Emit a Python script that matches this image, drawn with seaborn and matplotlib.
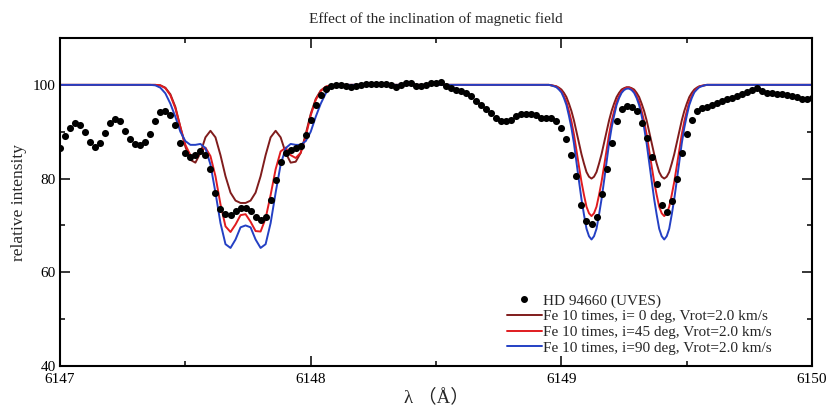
import matplotlib
matplotlib.use("Agg")
import matplotlib.pyplot as plt
import numpy as np
import seaborn as sns
from matplotlib.lines import Line2D
from matplotlib.ticker import MultipleLocator, FormatStrFormatter

# observed spectrum HD 94660 (UVES), sampled every 0.02 A
wl_obs = np.round(np.arange(6147.0, 6150.001, 0.02), 2)
flux_obs = [
    86.5, 89.0, 90.9, 91.9, 91.5, 90.0, 87.8, 86.7, 87.5, 89.8,
    91.9, 92.8, 92.3, 90.2, 88.5, 87.4, 87.2, 87.9, 89.6, 92.3,
    94.2, 94.4, 93.5, 91.5, 87.7, 85.5, 84.7, 85.1, 85.8, 85.0,
    82.0, 77.0, 73.6, 72.4, 72.3, 73.0, 73.7, 73.7, 73.0, 71.9,
    71.1, 71.7, 75.5, 79.6, 83.5, 85.5, 86.2, 86.6, 87.0, 89.3,
    92.6, 95.7, 97.8, 99.1, 99.7, 99.9, 99.9, 99.7, 99.5, 99.7,
    100.0, 100.2, 100.2, 100.1, 100.2, 100.1, 99.9, 99.6, 99.9, 100.3,
    100.3, 99.8, 99.7, 100.0, 100.3, 100.5, 100.6, 99.8, 99.3, 99.0,
    98.6, 98.2, 97.6, 96.6, 95.8, 94.8, 94.0, 92.9, 92.3, 92.3,
    92.6, 93.4, 93.8, 93.8, 93.8, 93.5, 93.0, 93.0, 92.9, 92.3,
    90.9, 88.5, 85.0, 80.5, 74.3, 71.0, 70.4, 71.7, 76.8, 82.0,
    87.5, 92.2, 94.8, 95.5, 95.3, 94.4, 91.9, 88.6, 84.5, 78.9,
    74.3, 72.8, 75.2, 80.0, 85.5, 89.5, 92.6, 94.5, 95.0, 95.3,
    95.8, 96.1, 96.6, 96.9, 97.3, 97.7, 98.1, 98.5, 99.0, 99.3,
    98.6, 98.3, 98.2, 98.1, 98.0, 97.8, 97.7, 97.4, 97.0, 96.9,
    97.2]

# synthetic profiles, first blend (6147.36 - 6148.12, step 0.02)
wl_blend = np.round(np.arange(6147.36, 6148.121, 0.02), 2)
i0_blend = [100.0, 100.0, 99.9, 99.4, 98.0, 95.3, 91.0, 86.8, 84.0, 83.4,
            85.5, 88.8, 90.2, 88.8, 85.0, 80.5, 77.0, 75.3, 74.8, 74.8,
            75.3, 77.0, 80.5, 85.0, 88.8, 90.2, 88.8, 85.5, 83.4, 83.6,
            85.5, 89.5, 93.8, 97.0, 98.8, 99.6, 99.9, 100.0, 100.0]
i45_blend = [100.0, 100.0, 99.9, 99.3, 97.8, 95.0, 91.0, 87.2, 85.0, 84.5,
             85.8, 86.6, 84.8, 80.5, 74.5, 69.8, 68.6, 70.2, 72.2, 72.4,
             70.8, 68.8, 68.7, 71.5, 76.5, 82.0, 85.8, 86.6, 85.0, 84.4,
             85.5, 89.0, 93.5, 96.8, 98.7, 99.6, 99.9, 100.0, 100.0]
i90_blend = [100.0, 99.9, 99.4, 98.2, 96.0, 93.2, 90.0, 88.0, 87.2, 87.2,
             87.4, 86.5, 83.0, 77.0, 70.5, 66.0, 65.2, 67.0, 69.6, 70.0,
             69.6, 67.0, 65.2, 66.0, 70.5, 77.0, 83.0, 86.5, 87.4, 87.2,
             87.2, 88.0, 90.0, 93.2, 96.0, 98.2, 99.4, 99.9, 100.0]

# synthetic profiles, line pair (6148.94 - 6149.60, step 0.01)
wl_pair = np.round(np.arange(6148.94, 6149.601, 0.01), 2)
i0_pair = [100.0, 100.0, 99.9, 99.8, 99.7, 99.4, 99.0, 98.3, 97.4, 96.0,
           94.4, 92.4, 90.0, 87.6, 85.2, 83.2, 81.4, 80.4, 80.0, 80.4,
           81.4, 83.2, 85.2, 87.6, 90.0, 92.4, 94.4, 96.0, 97.4, 98.3,
           99.0, 99.3, 99.5, 99.5, 99.3, 99.0, 98.3, 97.4, 96.0, 94.4,
           92.4, 90.0, 87.6, 85.2, 83.2, 81.4, 80.4, 80.0, 80.4, 81.4,
           83.2, 85.2, 87.6, 90.0, 92.4, 94.4, 96.0, 97.4, 98.3, 99.0,
           99.4, 99.7, 99.8, 99.9, 100.0, 100.0, 100.0]
i45_pair = [100.0, 100.0, 99.9, 99.8, 99.6, 99.2, 98.6, 97.6, 96.4, 94.4,
            92.2, 89.4, 86.0, 82.6, 79.3, 76.5, 74.0, 72.6, 72.0, 72.6,
            74.0, 76.5, 79.3, 82.6, 86.0, 89.4, 92.2, 94.4, 96.4, 97.6,
            98.6, 99.1, 99.4, 99.4, 99.1, 98.6, 97.6, 96.4, 94.4, 92.2,
            89.4, 86.0, 82.6, 79.3, 76.5, 74.0, 72.6, 72.0, 72.6, 74.0,
            76.5, 79.3, 82.6, 86.0, 89.4, 92.2, 94.4, 96.4, 97.6, 98.6,
            99.2, 99.6, 99.8, 99.9, 100.0, 100.0, 100.0]
i90_pair = [100.0, 100.0, 99.9, 99.7, 99.5, 99.0, 98.4, 97.2, 95.7, 93.4,
            90.8, 87.5, 83.5, 79.5, 75.6, 72.3, 69.3, 67.7, 67.0, 67.7,
            69.3, 72.3, 75.6, 79.5, 83.5, 87.5, 90.8, 93.4, 95.7, 97.2,
            98.3, 98.9, 99.2, 99.2, 98.9, 98.3, 97.2, 95.7, 93.4, 90.8,
            87.5, 83.5, 79.5, 75.6, 72.3, 69.3, 67.7, 67.0, 67.7, 69.3,
            72.3, 75.6, 79.5, 83.5, 87.5, 90.8, 93.4, 95.7, 97.2, 98.4,
            99.0, 99.5, 99.7, 99.9, 100.0, 100.0, 100.0]

continuum = 100.0
wl_start, wl_end = 6147.0, 6150.0

labels = ["HD 94660 (UVES)",
          "Fe 10 times, i= 0 deg, Vrot=2.0 km/s",
          "Fe 10 times, i=45 deg, Vrot=2.0 km/s",
          "Fe 10 times, i=90 deg, Vrot=2.0 km/s"]
colors = ["#801c1c", "#e01b1f", "#2440c4"]

sns.set_theme(style="ticks")
plt.rcParams["font.family"] = ["Liberation Serif", "Noto Sans CJK JP"]
plt.rcParams["axes.linewidth"] = 1.5

fig, ax = plt.subplots(figsize=(8.27, 4.07), dpi=100)
fig.subplots_adjust(left=0.0726, right=0.982, bottom=0.1007, top=0.9066)

wl_model = np.concatenate([[wl_start], wl_blend, wl_pair, [wl_end]])
for prof_blend, prof_pair, col in zip([i0_blend, i45_blend, i90_blend],
                                      [i0_pair, i45_pair, i90_pair], colors):
    prof = np.concatenate([[continuum], prof_blend, prof_pair, [continuum]])
    sns.lineplot(x=wl_model, y=prof, color=col, lw=1.4, ax=ax,
                 estimator=None, sort=False, zorder=2)

sns.scatterplot(x=wl_obs, y=flux_obs, color="black", s=26, linewidth=0,
                ax=ax, zorder=3)

ax.set_xlim(wl_start, wl_end)
ax.set_ylim(40, 110)
ax.xaxis.set_major_locator(MultipleLocator(1))
ax.xaxis.set_minor_locator(MultipleLocator(0.5))
ax.yaxis.set_major_locator(MultipleLocator(20))
ax.yaxis.set_minor_locator(MultipleLocator(10))
ax.xaxis.set_major_formatter(FormatStrFormatter("%d"))
ax.tick_params(which="both", direction="in", top=True, right=True,
               colors="black", labelsize=11, width=1.1)
ax.tick_params(which="major", length=7)
ax.tick_params(which="minor", length=3.6)
ax.tick_params(axis="x", which="major", pad=5)
ax.tick_params(axis="y", which="major", pad=3)
for sp in ax.spines.values():
    sp.set_color("black")

ax.set_title("Effect of the inclination of magnetic field", fontsize=11, pad=11)
ax.set_ylabel("relative intensity", fontsize=12.5, labelpad=4)
ax.set_xlabel("λ （Å）", fontsize=13.5, labelpad=2)

handles = [Line2D([], [], ls="none", marker="o", color="black", markersize=4)]
handles += [Line2D([], [], color=c, lw=1.4) for c in colors]
ax.legend(handles, labels, loc="lower left", bbox_to_anchor=(0.594, 0.035),
          frameon=False, fontsize=11, handlelength=2.3, handletextpad=0.1,
          labelspacing=0.12, borderpad=0, borderaxespad=0)

fig.savefig("out.png", dpi=100)
